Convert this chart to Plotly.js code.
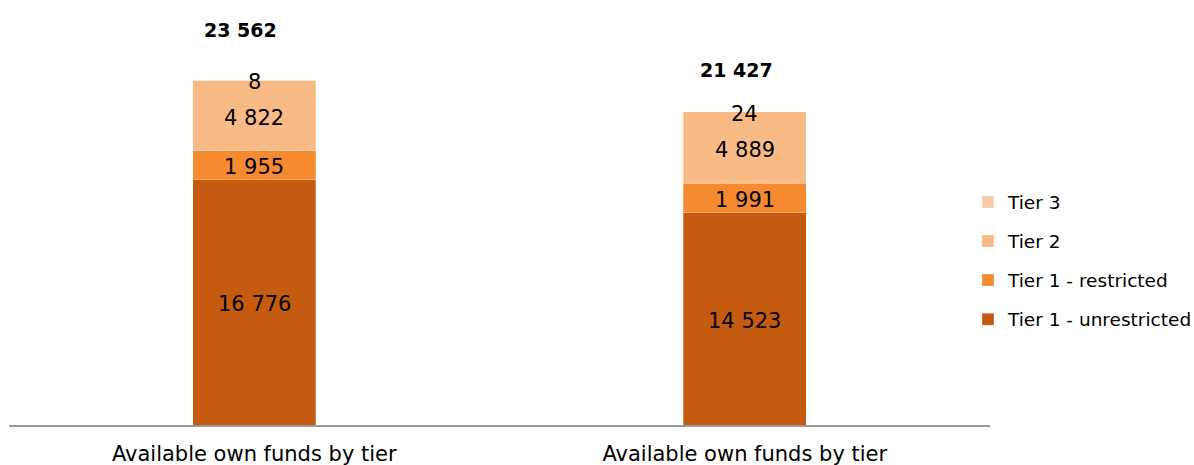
<!DOCTYPE html>
<html>
<head>
<meta charset="utf-8">
<script src="https://cdn.plot.ly/plotly-3.0.1.min.js"></script>
<style>
  html, body { margin: 0; padding: 0; background: #ffffff; }
  #chart { width: 1194px; height: 465px; }
</style>
</head>
<body>
<div id="chart"></div>
<script>
// ---- data ----
const categories = ["Available own funds by tier (1)", "Available own funds by tier (2)"];
const tickLabels = ["Available own funds by tier", "Available own funds by tier"];
const seriesNames = ["Tier 1 - unrestricted", "Tier 1 - restricted", "Tier 2", "Tier 3"];
const tier1Unrestricted = [16776, 14523];
const tier1Restricted = [1955, 1991];
const tier2 = [4822, 4889];
const tier3 = [8, 24];
const totals = [23562, 21427];

// ---- styles ----
const colors = ["#C55A11", "#F58A30", "#F9BB86", "#F9CBAB"];
const FONT = "DejaVu Sans, Arial, sans-serif";
const seriesValues = [tier1Unrestricted, tier1Restricted, tier2, tier3];

function fmt(v) {
  return String(v).replace(/\B(?=(\d{3})+(?!\d))/g, " ");
}

const traces = seriesValues.map((vals, i) => ({
  type: "bar",
  name: seriesNames[i],
  x: categories,
  y: vals,
  width: 0.25,
  legendgroup: "g" + i,
  legendrank: 1000 - i,
  marker: { color: colors[i], line: { color: "rgba(255,255,255,0.45)", width: 0.6 } },
  hoverinfo: "name+y"
}));

const annotations = [];
// segment labels at segment midpoints
categories.forEach((cat, ci) => {
  let base = 0;
  seriesValues.forEach((vals) => {
    const v = vals[ci];
    annotations.push({
      x: cat, y: base + v / 2, xref: "x", yref: "y",
      text: fmt(v), showarrow: false,
      font: { family: FONT, size: 21, color: "#000000" },
      xanchor: "center", yanchor: "middle", yshift: -2
    });
    base += v;
  });
});
// totals
const totalShiftY = [50, 42];
const totalShiftX = [-14, -8];
categories.forEach((cat, ci) => {
  annotations.push({
    x: cat, y: totals[ci], xref: "x", yref: "y",
    text: "<b>" + fmt(totals[ci]) + "</b>", showarrow: false,
    font: { family: FONT, size: 19, color: "#000000" },
    xanchor: "center", yanchor: "middle",
    yshift: totalShiftY[ci], xshift: totalShiftX[ci]
  });
});

const layout = {
  width: 1194,
  height: 465,
  margin: { l: 9, r: 204, t: 0, b: 40, pad: 0, autoexpand: false },
  paper_bgcolor: "#ffffff",
  plot_bgcolor: "#ffffff",
  barmode: "stack",
  font: { family: FONT, size: 21, color: "#000000" },
  showlegend: true,
  legend: {
    xref: "container",
    x: 0.8107, xanchor: "left",
    y: 0.386, yanchor: "middle",
    traceorder: "grouped",
    tracegroupgap: 12,
    font: { family: FONT, size: 18.5, color: "#000000" },
    bgcolor: "rgba(0,0,0,0)"
  },
  xaxis: {
    type: "category",
    tickvals: categories,
    ticktext: tickLabels,
    showgrid: false,
    zeroline: false,
    showline: true,
    linecolor: "#999999",
    linewidth: 2,
    ticks: "",
    ticklabelstandoff: 9,
    tickfont: { family: FONT, size: 21, color: "#000000" },
    fixedrange: true
  },
  yaxis: {
    range: [0, 29050],
    showgrid: false,
    zeroline: false,
    showline: false,
    showticklabels: false,
    ticks: "",
    fixedrange: true
  },
  annotations: annotations
};

Plotly.newPlot("chart", traces, layout, { displayModeBar: false, staticPlot: true });
</script>
</body>
</html>
